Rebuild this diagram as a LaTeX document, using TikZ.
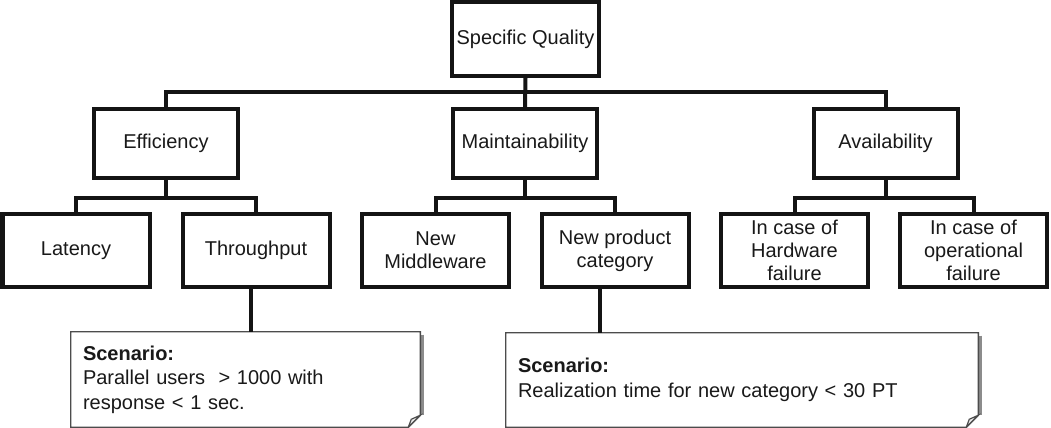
\documentclass[tikz,border=0pt]{standalone}
\usepackage{fontspec}
\setmainfont{Liberation Sans}
\usetikzlibrary{calc}
\pgfdeclarelayer{background}
\pgfsetlayers{background,main}
\begin{document}
\begin{tikzpicture}[x=0.75pt,y=-0.75pt,
  every node/.style={font=\fontsize{15pt}{17.5pt}\selectfont, text=black!90},
  qbox/.style={draw=black!92, line width=3pt, fill=white, align=center, inner sep=2pt},
  top/.style={qbox, minimum width=147*0.75pt, minimum height=74*0.75pt},
  mid/.style={qbox, minimum width=144*0.75pt, minimum height=69*0.75pt},
  leaf/.style={qbox, minimum width=147*0.75pt, minimum height=73*0.75pt},
  link/.style={draw=black!92, line width=3pt},
  scen/.style={align=left, inner xsep=12*0.75pt, inner ysep=0pt, font=\fontsize{15pt}{18.5pt}\selectfont},
  scenline/.style={draw=black!70, line width=1.1pt, fill=white},
  shadow/.style={draw=black!45, line width=2pt}
]
\useasboundingbox (0,0) rectangle (1051,428);

% top
\node[top] (sq) at (525.5,39) {Specific Quality};
% level 2
\node[mid] (eff) at (166,143.5) {Efficiency};
\node[mid] (mai) at (525,143.5) {Maintainability};
\node[mid] (ava) at (885.5,143.5) {Availability};
% level 3
\node[leaf] (lat) at (76,250.5) {Latency};
\node[leaf] (thr) at (256,250.5) {Throughput};
\node[leaf] (mid) at (435.5,250.5) {New\\Middleware};
\node[leaf] (npc) at (615,250.5) {New product\\category};
\node[leaf] (hw) at (794.5,250.5) {In case of\\Hardware\\failure};
\node[leaf] (op) at (973.5,250.5) {In case of\\operational\\failure};

% buses
\coordinate (b1) at (0,92);
\coordinate (b2) at (0,198);
\draw[link] (sq.south) -- (mai.north);
\draw[link] (eff.north) |- (sq.south |- b1) -| (ava.north);
\draw[link] (eff.south) -- (eff.south |- b2);
\draw[link] (lat.north) |- (eff.south |- b2) -| (thr.north);
\draw[link] (mai.south) -- (mai.south |- b2);
\draw[link] (mid.north) |- (mai.south |- b2) -| (npc.north);
\draw[link] (ava.south) -- (ava.south |- b2);
\draw[link] (hw.north) |- (ava.south |- b2) -| (op.north);

% scenario notes
\node[scen, text width=325*0.75pt, minimum height=95*0.75pt] (sc1) at (245.5,379.5)
  {\textbf{Scenario:}\\Parallel users\ \ > 1000 with\\response < 1 sec.};
\node[scen, text width=448*0.75pt, minimum height=94*0.75pt] (sc2) at (742,380)
  {\textbf{Scenario:}\\Realization time for new category < 30 PT};

\begin{pgfonlayer}{background}
\foreach \s in {sc1,sc2}{
  \draw[shadow] ($(\s.north east)+(2,3)$) -- ($(\s.south east)+(2,-12)$);
  \draw[scenline] (\s.north west) -- (\s.north east) -- ($(\s.south east)+(0,-12)$)
     -- ($(\s.south east)+(-12,0)$) -- (\s.south west) -- cycle;
  \draw[draw=black!70, line width=0.9pt, fill=black!8]
     ($(\s.south east)+(-12,0)$) -- ($(\s.south east)+(-9,-8)$) -- ($(\s.south east)+(0,-12)$) -- cycle;
}
\end{pgfonlayer}

\coordinate (c1) at ($(thr.south)+(-5,0)$);
\coordinate (c2) at ($(npc.south)+(-15,0)$);
\draw[link] (c1) -- (c1 |- sc1.north);
\draw[link] (c2) -- (c2 |- sc2.north);
\end{tikzpicture}
\end{document}
